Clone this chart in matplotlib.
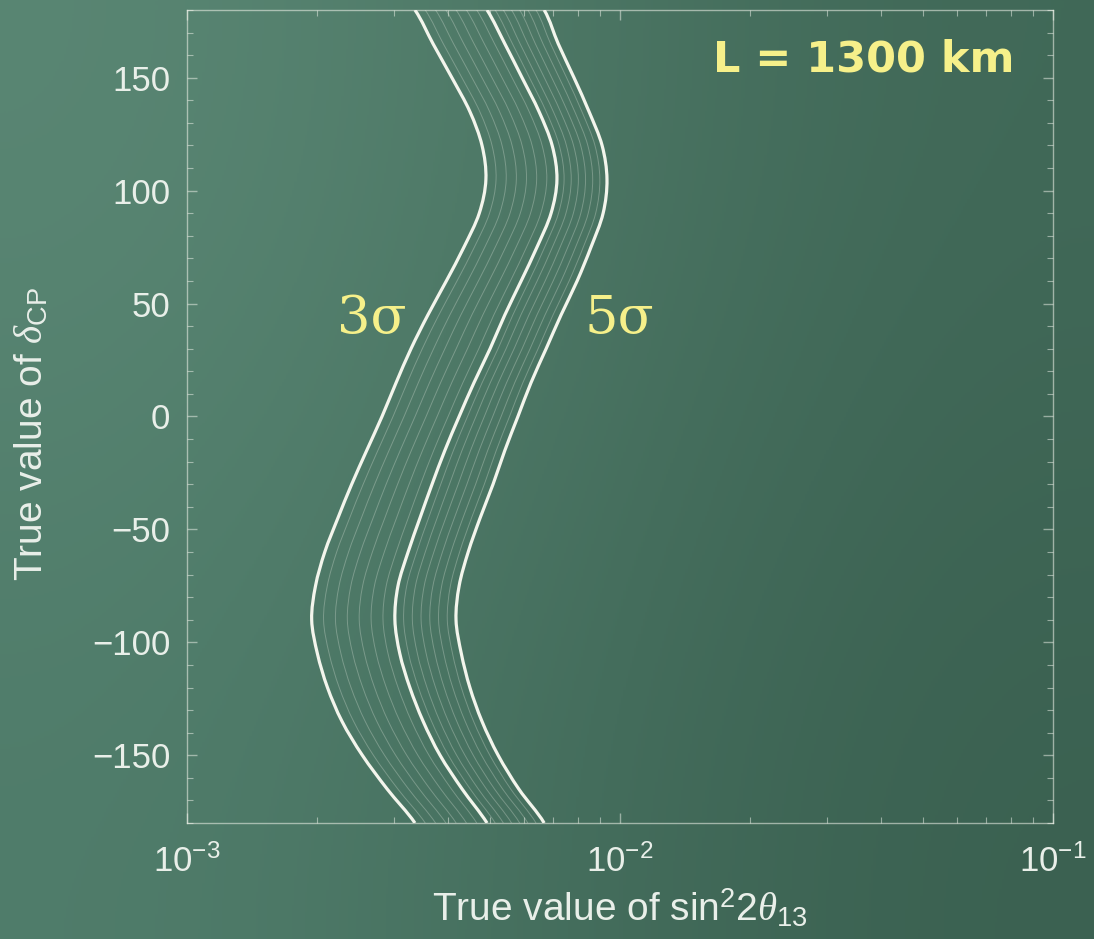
import numpy as np
import matplotlib
matplotlib.use("Agg")
import matplotlib.pyplot as plt
from matplotlib.path import Path
from matplotlib.patches import PathPatch

plt.rcParams['font.family'] = ['Liberation Sans', 'DejaVu Sans']
plt.rcParams['mathtext.fontset'] = 'custom'
plt.rcParams['mathtext.rm'] = 'Liberation Sans'
plt.rcParams['mathtext.it'] = 'Liberation Serif:italic'

# true delta_CP (degrees) and the sin^2 2theta13 reach of each contour
delta_cp = [180, 165, 150, 135, 120, 105, 90, 75, 60, 45, 30, 15, 0,
            -15, -30, -45, -60, -75, -90, -105, -120, -135, -150, -165, -180]

curve_3sigma = [3.36, 3.70, 4.09, 4.50, 4.80, 4.90, 4.73, 4.36, 3.97, 3.60, 3.29, 3.04, 2.82,
                2.60, 2.40, 2.23, 2.08, 1.98, 1.94, 2.00, 2.11, 2.28, 2.54, 2.90, 3.36]
curve_4sigma = [4.93, 5.42, 5.94, 6.50, 6.97, 7.15, 6.93, 6.43, 5.91, 5.42, 5.01, 4.60, 4.25,
                3.94, 3.68, 3.45, 3.24, 3.07, 3.02, 3.10, 3.27, 3.51, 3.84, 4.32, 4.93]
curve_5sigma = [6.68, 7.20, 7.83, 8.48, 9.09, 9.33, 9.14, 8.57, 7.96, 7.31, 6.75, 6.23, 5.81,
                5.42, 5.09, 4.75, 4.46, 4.25, 4.18, 4.30, 4.50, 4.80, 5.23, 5.84, 6.68]

# thin sub-contours drawn inside each band (fraction of the way across, in log space)
band_fractions = [1/7, 2/7, 3/7, 4/7, 5/7, 6/7]

chalk = '#f3f5ec'
yellow = '#f6f08a'
label_grey = '#e9efe9'


def smooth_path(xs, ys):
    """Catmull-Rom curve through the points (periodic in delta), built in log-x space."""
    lx = np.log10(xs)
    y = np.asarray(ys, dtype=float)
    # wrap one point on each end, the contour repeats every 360 degrees
    lx = np.concatenate([[lx[-2]], lx, [lx[1]]])
    y = np.concatenate([[y[-2] + 360], y, [y[1] - 360]])
    verts = [(lx[1], y[1])]
    codes = [Path.MOVETO]
    for i in range(1, len(lx) - 2):
        c1 = (lx[i] + (lx[i + 1] - lx[i - 1]) / 6, y[i] + (y[i + 1] - y[i - 1]) / 6)
        c2 = (lx[i + 1] - (lx[i + 2] - lx[i]) / 6, y[i + 1] - (y[i + 2] - y[i]) / 6)
        verts += [c1, c2, (lx[i + 1], y[i + 1])]
        codes += [Path.CURVE4] * 3
    verts = np.array(verts)
    verts[:, 0] = 10 ** verts[:, 0]
    return Path(verts, codes)


c3 = np.array(curve_3sigma) * 1e-3
c4 = np.array(curve_4sigma) * 1e-3
c5 = np.array(curve_5sigma) * 1e-3

fig = plt.figure(figsize=(10.94, 9.39), dpi=100)

# chalkboard background
bg = fig.add_axes([0, 0, 1, 1], zorder=-1)
board = np.array([[[90, 135, 116], [64, 104, 87]],
                  [[80, 125, 107], [58, 96, 80]]]) / 255
bg.imshow(board, extent=[0, 1, 0, 1], aspect='auto', interpolation='bicubic')
bg.axis('off')

ax = fig.add_axes([0.171, 0.1235, 0.7915, 0.8659])
ax.set_facecolor('none')

for lo, hi in [(c3, c4), (c4, c5)]:
    for f in band_fractions:
        ax.add_patch(PathPatch(smooth_path(lo ** (1 - f) * hi ** f, delta_cp),
                               fill=False, edgecolor=chalk, lw=0.7, alpha=0.28))

for curve in (c3, c4, c5):
    ax.add_patch(PathPatch(smooth_path(curve, delta_cp), fill=False,
                           edgecolor=chalk, lw=2.3))

ax.set_xscale('log')
ax.set_xlim(1e-3, 1e-1)
ax.set_ylim(-180, 180)
ax.set_yticks([-150, -100, -50, 0, 50, 100, 150])
ax.set_yticks(np.arange(-180, 181, 10), minor=True)

for side in ax.spines.values():
    side.set_color(chalk)
    side.set_alpha(0.55)
    side.set_linewidth(1.0)

ax.tick_params(which='both', direction='in', top=True, right=True,
               color=(0.95, 0.96, 0.93, 0.5), labelcolor=label_grey, labelsize=25)
ax.tick_params(which='major', length=7, width=1)
ax.tick_params(which='minor', length=4, width=0.8)
ax.tick_params(axis='x', pad=15)
ax.tick_params(axis='y', pad=12)

ax.set_xlabel(r'True value of sin$^2$2$\theta_{13}$', fontsize=28, color=label_grey, labelpad=6)
ax.set_ylabel(r'True value of $\delta_{\mathrm{CP}}$', fontsize=28, color=label_grey)
ax.yaxis.set_label_coords(-0.158, 0.478)

fig.text(372 / 1094, 1 - 318 / 939, '3σ', fontsize=38, color=yellow,
         family='DejaVu Serif', ha='center', va='center')
fig.text(619 / 1094, 1 - 318 / 939, '5σ', fontsize=38, color=yellow,
         family='DejaVu Serif', ha='center', va='center')
fig.text(864 / 1094, 1 - 60 / 939, 'L = 1300 km', fontsize=31, color=yellow,
         family='DejaVu Sans', fontweight='bold', ha='center', va='center')

fig.savefig('out.png', dpi=100)
